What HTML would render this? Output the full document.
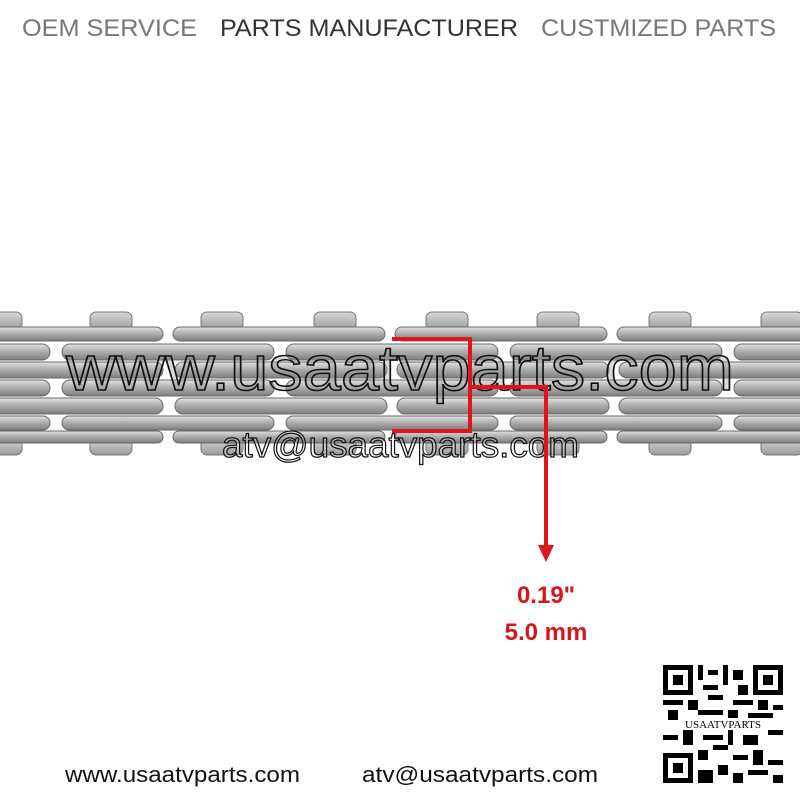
<!DOCTYPE html>
<html><head><meta charset="utf-8"><style>
body{margin:0;background:#fff;}
svg{display:block}
</style></head><body>
<svg width="800" height="800" viewBox="0 0 800 800" xmlns="http://www.w3.org/2000/svg">
<defs>
<linearGradient id="pl" x1="0" y1="0" x2="0" y2="1">
<stop offset="0" stop-color="#e2e2e2"/><stop offset="0.4" stop-color="#b5b5b5"/><stop offset="1" stop-color="#7e7e7e"/>
</linearGradient>
<linearGradient id="pin" x1="0" y1="0" x2="0" y2="1">
<stop offset="0" stop-color="#d8d8d8"/><stop offset="1" stop-color="#9a9a9a"/>
</linearGradient>
</defs>
<text x="22" y="36" font-family="Liberation Sans, sans-serif" font-size="24" fill="#777" textLength="175" lengthAdjust="spacingAndGlyphs">OEM SERVICE</text>
<text x="220" y="36" font-family="Liberation Sans, sans-serif" font-size="24" fill="#333" textLength="298" lengthAdjust="spacingAndGlyphs">PARTS MANUFACTURER</text>
<text x="541" y="36" font-family="Liberation Sans, sans-serif" font-size="24" fill="#777" textLength="235" lengthAdjust="spacingAndGlyphs">CUSTMIZED PARTS</text>

<g fill="url(#pin)" stroke="#777" stroke-width="1">
<rect x="-20" y="312" width="42" height="18" rx="6"/><rect x="90" y="312" width="42" height="18" rx="6"/><rect x="201" y="312" width="42" height="18" rx="6"/><rect x="314" y="312" width="42" height="18" rx="6"/><rect x="426" y="312" width="42" height="18" rx="6"/><rect x="537" y="312" width="42" height="18" rx="6"/><rect x="649" y="312" width="42" height="18" rx="6"/><rect x="761" y="312" width="42" height="18" rx="6"/>
<rect x="-20" y="438" width="42" height="17" rx="6"/><rect x="90" y="438" width="42" height="17" rx="6"/><rect x="201" y="438" width="42" height="17" rx="6"/><rect x="314" y="438" width="42" height="17" rx="6"/><rect x="426" y="438" width="42" height="17" rx="6"/><rect x="537" y="438" width="42" height="17" rx="6"/><rect x="649" y="438" width="42" height="17" rx="6"/><rect x="761" y="438" width="42" height="17" rx="6"/>
</g>
<g fill="url(#pl)" stroke="#6a6a6a" stroke-width="1">
<rect x="-60" y="327" width="223" height="14" rx="7"/><rect x="173" y="327" width="212" height="14" rx="7"/><rect x="395" y="327" width="212" height="14" rx="7"/><rect x="617" y="327" width="212" height="14" rx="7"/>
<rect x="-60" y="344" width="110" height="16" rx="8"/><rect x="62" y="344" width="212" height="16" rx="8"/><rect x="286" y="344" width="212" height="16" rx="8"/><rect x="510" y="344" width="212" height="16" rx="8"/><rect x="734" y="344" width="120" height="16" rx="8"/>
<rect x="-60" y="362" width="223" height="16" rx="8"/><rect x="175" y="362" width="212" height="16" rx="8"/><rect x="397" y="362" width="212" height="16" rx="8"/><rect x="619" y="362" width="212" height="16" rx="8"/>
<rect x="-60" y="380" width="110" height="16" rx="8"/><rect x="62" y="380" width="212" height="16" rx="8"/><rect x="286" y="380" width="212" height="16" rx="8"/><rect x="510" y="380" width="212" height="16" rx="8"/><rect x="734" y="380" width="120" height="16" rx="8"/>
<rect x="-60" y="398" width="223" height="16" rx="8"/><rect x="175" y="398" width="212" height="16" rx="8"/><rect x="397" y="398" width="212" height="16" rx="8"/><rect x="619" y="398" width="212" height="16" rx="8"/>
<rect x="-60" y="416" width="110" height="14" rx="7"/><rect x="62" y="416" width="212" height="14" rx="7"/><rect x="286" y="416" width="212" height="14" rx="7"/><rect x="510" y="416" width="212" height="14" rx="7"/><rect x="734" y="416" width="120" height="14" rx="7"/>
<rect x="-60" y="431" width="223" height="12" rx="6"/><rect x="173" y="431" width="212" height="12" rx="6"/><rect x="395" y="431" width="212" height="12" rx="6"/><rect x="617" y="431" width="212" height="12" rx="6"/>
</g>
<text x="66" y="390" font-family="Liberation Sans, sans-serif" font-size="64" fill="#999" fill-opacity="0.35" stroke="#111" stroke-width="1.6" textLength="668" lengthAdjust="spacingAndGlyphs">www.usaatvparts.com</text>
<text x="222" y="457" font-family="Liberation Sans, sans-serif" font-size="36" fill="#fff" fill-opacity="0.25" stroke="#111" stroke-width="1.2" textLength="357" lengthAdjust="spacingAndGlyphs">atv@usaatvparts.com</text>

<g stroke="#e0141a" stroke-width="4" fill="none">
<polyline points="392,339 470,339 470,431 392,431"/>
<polyline points="470,387 546,387 546,545"/>
</g>
<polygon points="538,545 554,545 546,562" fill="#e0141a"/>
<text x="546" y="603" font-family="Liberation Sans, sans-serif" font-size="24" font-weight="bold" fill="#d8151c" text-anchor="middle">0.19"</text>
<text x="546" y="640" font-family="Liberation Sans, sans-serif" font-size="24" font-weight="bold" fill="#d8151c" text-anchor="middle">5.0 mm</text>

<text x="65" y="782" font-family="Liberation Sans, sans-serif" font-size="22" fill="#111" textLength="235" lengthAdjust="spacingAndGlyphs">www.usaatvparts.com</text>
<text x="362" y="782" font-family="Liberation Sans, sans-serif" font-size="22" fill="#111" textLength="236" lengthAdjust="spacingAndGlyphs">atv@usaatvparts.com</text>

<g fill="#000">
<rect x="663" y="665" width="30" height="30"/><rect x="668" y="670" width="20" height="20" fill="#fff"/><rect x="673" y="675" width="10" height="10"/>
<rect x="753" y="665" width="30" height="30"/><rect x="758" y="670" width="20" height="20" fill="#fff"/><rect x="763" y="675" width="10" height="10"/>
<rect x="663" y="753" width="30" height="30"/><rect x="668" y="758" width="20" height="20" fill="#fff"/><rect x="673" y="763" width="10" height="10"/>
<rect x="698" y="665" width="5" height="15"/><rect x="708" y="670" width="10" height="5"/><rect x="723" y="665" width="5" height="20"/><rect x="733" y="670" width="10" height="10"/><rect x="703" y="685" width="15" height="5"/><rect x="738" y="685" width="10" height="10"/>
<rect x="663" y="700" width="20" height="5"/><rect x="688" y="700" width="10" height="10"/><rect x="708" y="695" width="15" height="5"/><rect x="733" y="700" width="20" height="5"/><rect x="758" y="700" width="10" height="10"/><rect x="773" y="705" width="10" height="5"/>
<rect x="668" y="710" width="10" height="10"/><rect x="698" y="710" width="25" height="5"/><rect x="728" y="710" width="10" height="10"/><rect x="748" y="713" width="25" height="5"/>
<rect x="663" y="735" width="15" height="5"/><rect x="683" y="730" width="10" height="15"/><rect x="703" y="735" width="20" height="5"/><rect x="728" y="730" width="5" height="15"/><rect x="743" y="735" width="15" height="10"/><rect x="768" y="730" width="15" height="5"/>
<rect x="698" y="750" width="10" height="10"/><rect x="713" y="745" width="15" height="5"/><rect x="733" y="755" width="15" height="5"/><rect x="753" y="750" width="10" height="15"/><rect x="768" y="760" width="15" height="5"/>
<rect x="698" y="770" width="15" height="13"/><rect x="718" y="765" width="10" height="10"/><rect x="733" y="773" width="10" height="10"/><rect x="748" y="770" width="20" height="5"/><rect x="773" y="775" width="10" height="8"/>
</g>
<rect x="686" y="718" width="74" height="12" fill="#fff"/>
<text x="723" y="728" font-family="Liberation Serif, serif" font-size="11" fill="#000" text-anchor="middle">USAATVPARTS</text>
</svg>
</body></html>
